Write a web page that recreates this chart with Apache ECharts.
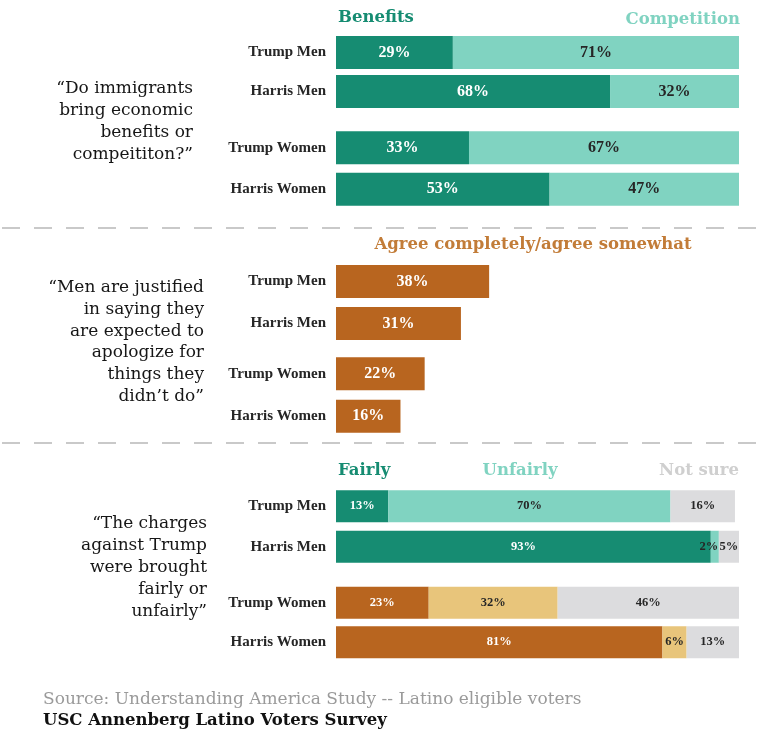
<!DOCTYPE html>
<html>
<head>
<meta charset="utf-8">
<title>Latino voters: attitudes by candidate and gender</title>
<script src="https://cdn.jsdelivr.net/npm/echarts@6/dist/echarts.min.js"></script>
<style>
  html, body { margin: 0; padding: 0; background: #ffffff; }
  #chart { width: 764px; height: 734px; }
</style>
</head>
<body>
<div id="chart"></div>
<script>
// Respondent groups (one bar each, in every panel)
const groups = ['Trump Men', 'Harris Men', 'Trump Women', 'Harris Women'];

// Panel 1: immigrants bring economic benefits or competition
const benefits = [29, 68, 33, 53];
const competition = [71, 32, 67, 47];

// Panel 2: men expected to apologize
const agree = [38, 31, 22, 16];

// Panel 3: charges against Trump
const fairly = [13, 93, 23, 81];
const unfairly = [70, 2, 32, 6];
const notSure = [16, 5, 46, 13];

// Colours
const TEAL = '#168c72';
const TEAL_LIGHT = '#80d3c1';
const BROWN = '#b8651f';
const TAN = '#e8c57b';
const GREY = '#dcdcde';
const INK = '#262626';

const SERIF = 'DejaVu Serif';
const TIMES = 'Liberation Serif';

// Plot area shared by all bar panels
const PLOT_LEFT = 336;
const PLOT_WIDTH = 403;

// One grid per pair of bars: [top, height, barWidth]
const pairBoxes = [
  [33, 78, 33], [127, 83, 33],      // panel 1
  [260.5, 84, 33], [352.5, 85, 33], // panel 2
  [486, 81, 32], [583, 79, 32]      // panel 3
];

const grid = [], xAxis = [], yAxis = [], series = [];

pairBoxes.forEach(function (box, i) {
  grid.push({ left: PLOT_LEFT, width: PLOT_WIDTH, top: box[0], height: box[1] });
  xAxis.push({ type: 'value', gridIndex: i, min: 0, max: 100, show: false });
  const pair = i % 2;
  yAxis.push({
    type: 'category', gridIndex: i, inverse: true,
    data: groups.slice(pair * 2, pair * 2 + 2),
    axisLine: { show: false }, axisTick: { show: false }, splitLine: { show: false },
    axisLabel: { margin: 10, color: INK, fontFamily: TIMES, fontWeight: 'bold', fontSize: 15 }
  });
});

function pairSlice(values, pair) {
  return values.slice(pair * 2, pair * 2 + 2);
}

function addBar(gridIdx, name, values, color, labelColor, fontSize) {
  series.push({
    type: 'bar', name: name, xAxisIndex: gridIdx, yAxisIndex: gridIdx,
    stack: 'grid' + gridIdx, barWidth: pairBoxes[gridIdx][2],
    // very thin segments get their label nudged left so neighbours don't collide
    data: values.map(function (v) {
      return v < 4 ? { value: v, label: { offset: [-6, 0] } } : v;
    }),
    itemStyle: { color: color },
    silent: true,
    label: {
      show: true, position: 'inside', formatter: '{c}%',
      color: labelColor, fontFamily: TIMES, fontWeight: 'bold', fontSize: fontSize
    }
  });
}

// Panel 1
[0, 1].forEach(function (pair) {
  addBar(pair, 'Benefits', pairSlice(benefits, pair), TEAL, '#ffffff', 16);
  addBar(pair, 'Competition', pairSlice(competition, pair), TEAL_LIGHT, INK, 16);
});

// Panel 2
[0, 1].forEach(function (pair) {
  addBar(2 + pair, 'Agree', pairSlice(agree, pair), BROWN, '#ffffff', 16);
});

// Panel 3: men in teal tones, women in brown tones
addBar(4, 'Fairly', pairSlice(fairly, 0), TEAL, '#ffffff', 12.5);
addBar(4, 'Unfairly', pairSlice(unfairly, 0), TEAL_LIGHT, INK, 12.5);
addBar(4, 'Not sure', pairSlice(notSure, 0), GREY, INK, 12.5);
addBar(5, 'Fairly', pairSlice(fairly, 1), BROWN, '#ffffff', 12.5);
addBar(5, 'Unfairly', pairSlice(unfairly, 1), TAN, INK, 12.5);
addBar(5, 'Not sure', pairSlice(notSure, 1), GREY, INK, 12.5);

function text(x, y, str, opts) {
  return {
    type: 'text', x: x, y: y, silent: true,
    style: Object.assign({
      text: str, fill: INK, fontFamily: SERIF, fontSize: 17,
      align: 'left', verticalAlign: 'middle'
    }, opts || {})
  };
}

function dashedRule(y) {
  return {
    type: 'line', silent: true,
    shape: { x1: 2, y1: y, x2: 762, y2: y },
    style: { stroke: '#c9c9c9', lineWidth: 2, lineDash: [18, 14] }
  };
}

const HEAD = { fontWeight: 'bold', fontSize: 16.5 };

const graphic = [
  // Column headers
  text(338, 18, 'Benefits', Object.assign({ fill: TEAL }, HEAD)),
  text(740, 20, 'Competition', Object.assign({ fill: TEAL_LIGHT, align: 'right' }, HEAD)),
  text(533, 245, 'Agree completely/agree somewhat', Object.assign({ fill: '#c27c38', align: 'center' }, HEAD)),
  text(338, 471, 'Fairly', Object.assign({ fill: TEAL }, HEAD)),
  text(520, 471, 'Unfairly', Object.assign({ fill: TEAL_LIGHT, align: 'center' }, HEAD)),
  text(739, 471, 'Not sure', Object.assign({ fill: '#cfcfcf', align: 'right' }, HEAD)),

  // Question texts
  text(193, 78, '\u201cDo immigrants\nbring economic\nbenefits or\ncompeititon?\u201d',
       { align: 'right', verticalAlign: 'top', lineHeight: 22, fill: '#161616' }),
  text(204, 277, '\u201cMen are justified\nin saying they\nare expected to\napologize for\nthings they\ndidn\u2019t do\u201d',
       { align: 'right', verticalAlign: 'top', lineHeight: 21.7, fill: '#161616' }),
  text(207, 513, '\u201cThe charges\nagainst Trump\nwere brought\nfairly or\nunfairly\u201d',
       { align: 'right', verticalAlign: 'top', lineHeight: 22, fill: '#161616' }),

  // Section separators
  dashedRule(228),
  dashedRule(443),

  // Footer
  text(43, 700, 'Source: Understanding America Study -- Latino eligible voters',
       { fill: '#9a9a9a', fontSize: 17 }),
  text(43, 721, 'USC Annenberg Latino Voters Survey',
       { fill: '#111111', fontWeight: 'bold', fontSize: 16.5 })
];

const chart = echarts.init(document.getElementById('chart'), null, { renderer: 'canvas' });
chart.setOption({
  backgroundColor: '#ffffff',
  animation: false,
  grid: grid,
  xAxis: xAxis,
  yAxis: yAxis,
  series: series,
  graphic: graphic
});
</script>
</body>
</html>
